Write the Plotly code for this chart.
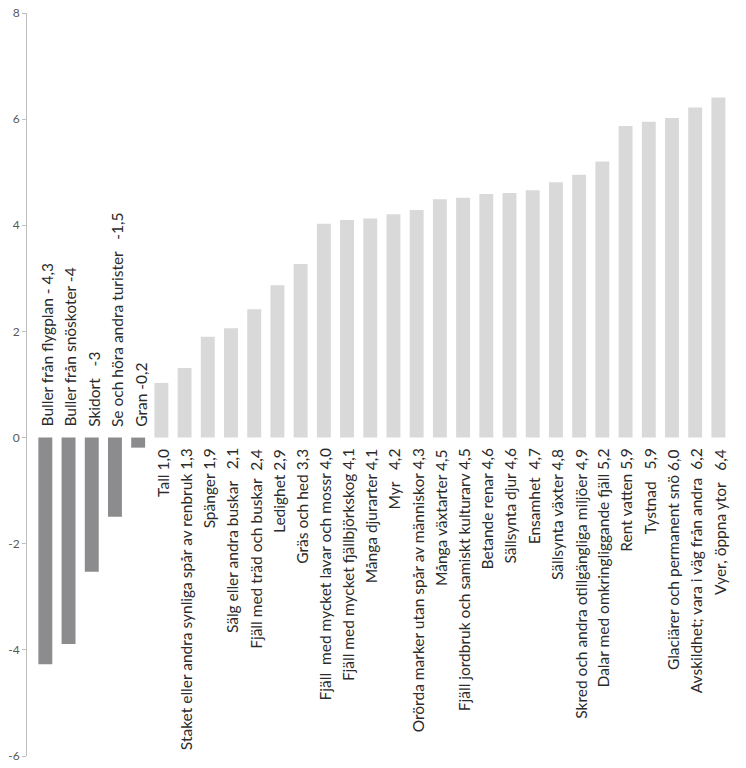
import plotly.graph_objects as go

labels = [
    "Buller från flygplan - 4,3",
    "Buller från snöskoter -4",
    "Skidort   -3",
    "Se och höra andra turister   -1,5",
    "Gran -0,2",
    "Tall 1,0",
    "Staket eller andra synliga spår av renbruk 1,3",
    "Spänger 1,9",
    "Sälg eller andra buskar   2,1",
    "Fjäll med träd och buskar  2,4",
    "Ledighet 2,9",
    "Gräs och hed 3,3",
    "Fjäll  med mycket lavar och mossr 4,0",
    "Fjäll med mycket fjällbjörkskog 4,1",
    "Många djurarter 4,1",
    "Myr   4,2",
    "Orörda marker utan spår av människor 4,3",
    "Många växtarter 4,5",
    "Fjäll jordbruk och samiskt kulturarv 4,5",
    "Betande renar 4,6",
    "Sällsynta djur 4,6",
    "Ensamhet  4,7",
    "Sällsynta växter 4,8",
    "Skred och andra otillgängliga miljöer 4,9",
    "Dalar med omkringliggande fjäll 5,2",
    "Rent vatten 5,9",
    "Tystnad   5,9",
    "Glaciärer och permanent snö 6,0",
    "Avskildhet; vara i väg från andra  6,2",
    "Vyer, öppna ytor   6,4",
]

values = [
    -4.27, -3.89, -2.53, -1.49, -0.19,
    1.03, 1.31, 1.90, 2.06, 2.42, 2.87, 3.27, 4.03, 4.10, 4.13,
    4.21, 4.29, 4.49, 4.52, 4.59, 4.61, 4.66, 4.81, 4.95, 5.20,
    5.87, 5.95, 6.02, 6.22, 6.41,
]

y_ticks = [-6, -4, -2, 0, 2, 4, 6, 8]

NEG_COLOR = "#8c8c8e"
POS_COLOR = "#d9d9d9"
FONT = "Lato, Open Sans, sans-serif"

xs = list(range(len(labels)))
colors = [NEG_COLOR if v < 0 else POS_COLOR for v in values]

fig = go.Figure()
fig.add_trace(go.Bar(
    x=xs, y=values, marker=dict(color=colors, line=dict(width=0)),
    width=0.6, hoverinfo="skip", showlegend=False,
))

annotations = []
for x, lab, v in zip(xs, labels, values):
    txt = lab.replace("  ", "\u00a0\u00a0")
    neg = v < 0
    annotations.append(dict(
        x=x, y=0, xref="x", yref="y", text=txt, showarrow=False,
        textangle=-90, xanchor="center",
        yanchor="bottom" if neg else "top",
        yshift=9 if neg else -9, xshift=2 if neg else 1,
        font=dict(family=FONT, size=15.5, color="#2b2b2b"),
    ))

fig.update_layout(
    width=746, height=768,
    margin=dict(l=27, r=16, t=13, b=12, autoexpand=False),
    plot_bgcolor="white", paper_bgcolor="white",
    annotations=annotations,
    xaxis=dict(range=[-0.79, 29.5], showticklabels=False, showgrid=False,
               zeroline=False, showline=False, ticks="", automargin=False),
    yaxis=dict(range=[-6, 8], tickvals=y_ticks, ticktext=[str(t) for t in y_ticks],
               showgrid=False, zeroline=False, showline=True, linecolor="#bfbfbf",
               linewidth=1, ticks="outside", ticklen=4, tickcolor="#bfbfbf",
               automargin=False,
               tickfont=dict(family=FONT, size=12, color="#595959")),
)

fig.write_html(
    "out.html",
    config={"displayModeBar": False},
    post_script="document.body.style.margin='0';document.body.style.overflow='hidden';",
)
